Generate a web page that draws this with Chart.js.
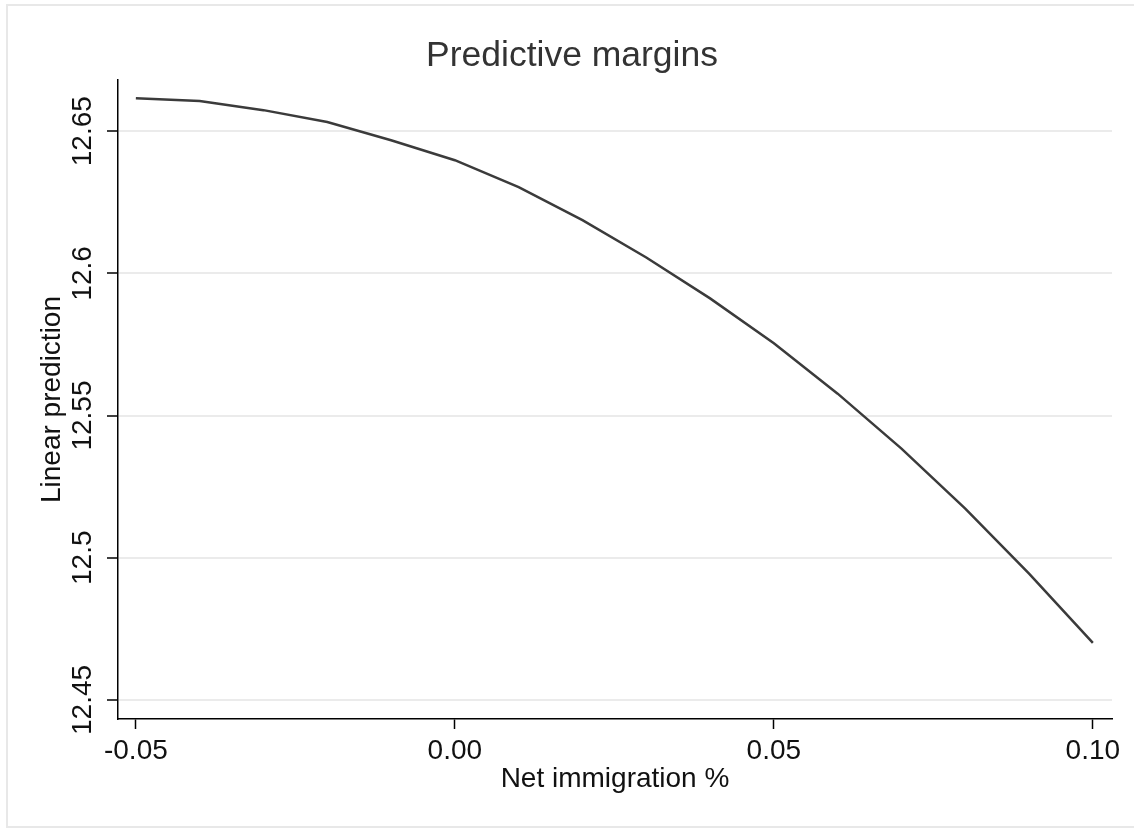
<!DOCTYPE html>
<html>
<head>
<meta charset="utf-8">
<title>Predictive margins</title>
<script src="https://cdn.jsdelivr.net/npm/chart.js@4.4.1/dist/chart.umd.min.js"></script>
<style>
    html, body { margin: 0; padding: 0; background: #ffffff; }
    #wrap { width: 1134px; height: 830px; }
</style>
</head>
<body>
<div id="wrap"><canvas id="marginsChart" width="1134" height="830"></canvas></div>
<script>
// Net immigration % (x) and linear prediction (y)
const immigration = [-0.05, -0.04, -0.03, -0.02, -0.01, 0.00, 0.01, 0.02, 0.03, 0.04, 0.05, 0.06, 0.07, 0.08, 0.09, 0.10];
const prediction = [12.6616, 12.6606, 12.6574, 12.6532, 12.6468, 12.6398, 12.6303, 12.6187, 12.6056, 12.5912, 12.5754, 12.5577, 12.5384, 12.5173, 12.4944, 12.4701];

// Axis ticks
const xTicks = [-0.05, 0.00, 0.05, 0.10];
const yTicks = [12.45, 12.5, 12.55, 12.6, 12.65];
const yTickLabels = ['12.45', '12.5', '12.55', '12.6', '12.65'];

document.addEventListener('DOMContentLoaded', function() {
    const ctx = document.getElementById('marginsChart').getContext('2d');
    const fontFamily = '"Liberation Sans", Arial, Helvetica, sans-serif';

    // light frame around the whole graph region
    const framePlugin = {
        id: 'frame',
        beforeDraw: function(chart) {
            const c = chart.ctx;
            c.save();
            c.strokeStyle = '#e8e8e8';
            c.lineWidth = 2;
            c.strokeRect(7, 5, 1140, 822);
            c.restore();
        }
    };

    // title, centred on the graph region the way Stata does it
    const titlePlugin = {
        id: 'stataTitle',
        afterDraw: function(chart) {
            const c = chart.ctx;
            c.save();
            c.fillStyle = '#333333';
            c.font = '35.5px ' + fontFamily;
            c.textAlign = 'center';
            c.textBaseline = 'middle';
            c.fillText('Predictive margins', 572, 56);
            c.restore();
        }
    };

    // y tick labels, rotated like Stata does
    const yLabelPlugin = {
        id: 'yLabels',
        afterDraw: function(chart) {
            const scale = chart.scales.y;
            const c = chart.ctx;
            c.save();
            c.fillStyle = '#111111';
            c.font = '28px ' + fontFamily;
            c.textAlign = 'center';
            c.textBaseline = 'middle';
            yTicks.forEach(function(v, i) {
                const y = scale.getPixelForValue(v);
                c.save();
                c.translate(83, y);
                c.rotate(-Math.PI / 2);
                c.fillText(yTickLabels[i], 0, 0);
                c.restore();
            });
            c.restore();
        }
    };

    const points = immigration.map(function(x, i) {
        return { x: x, y: prediction[i] };
    });

    new Chart(ctx, {
        type: 'line',
        data: {
            datasets: [{
                label: 'Linear prediction',
                data: points,
                borderColor: '#3b3b3b',
                borderWidth: 2.5,
                pointRadius: 0,
                tension: 0,
                fill: false
            }]
        },
        options: {
            responsive: false,
            animation: false,
            layout: {
                padding: { left: 8, right: 22, top: 80, bottom: 8 }
            },
            plugins: {
                legend: { display: false },
                tooltip: { enabled: false },
                title: { display: false }
            },
            scales: {
                x: {
                    type: 'linear',
                    min: -0.0528,
                    max: 0.103,
                    afterBuildTicks: function(scale) {
                        scale.ticks = xTicks.map(function(v) { return { value: v }; });
                    },
                    afterFit: function(scale) {
                        scale.height = 103;
                    },
                    grid: {
                        drawOnChartArea: false,
                        drawTicks: true,
                        tickLength: 10,
                        tickColor: '#000000',
                        tickWidth: 1.5
                    },
                    border: { display: true, color: '#000000', width: 1.5 },
                    ticks: {
                        color: '#111111',
                        padding: 5,
                        maxRotation: 0,
                        font: { family: fontFamily, size: 28 },
                        callback: function(value) {
                            return Number(value).toFixed(2);
                        }
                    },
                    title: {
                        display: true,
                        text: 'Net immigration %',
                        color: '#111111',
                        font: { family: fontFamily, size: 28 },
                        padding: { top: 0, bottom: 26 }
                    }
                },
                y: {
                    type: 'linear',
                    min: 12.4433,
                    max: 12.668,
                    afterBuildTicks: function(scale) {
                        scale.ticks = yTicks.map(function(v) { return { value: v }; });
                    },
                    afterFit: function(scale) {
                        scale.width = 110;
                    },
                    grid: {
                        color: '#ebebeb',
                        lineWidth: 2,
                        drawTicks: true,
                        tickLength: 11,
                        tickColor: '#000000',
                        tickWidth: 1.5
                    },
                    border: { display: true, color: '#000000', width: 1.5 },
                    ticks: { display: false },
                    title: {
                        display: true,
                        text: 'Linear prediction',
                        color: '#111111',
                        font: { family: fontFamily, size: 28 },
                        padding: { top: 27, bottom: 0 }
                    }
                }
            }
        },
        plugins: [framePlugin, titlePlugin, yLabelPlugin]
    });
});
</script>
</body>
</html>
